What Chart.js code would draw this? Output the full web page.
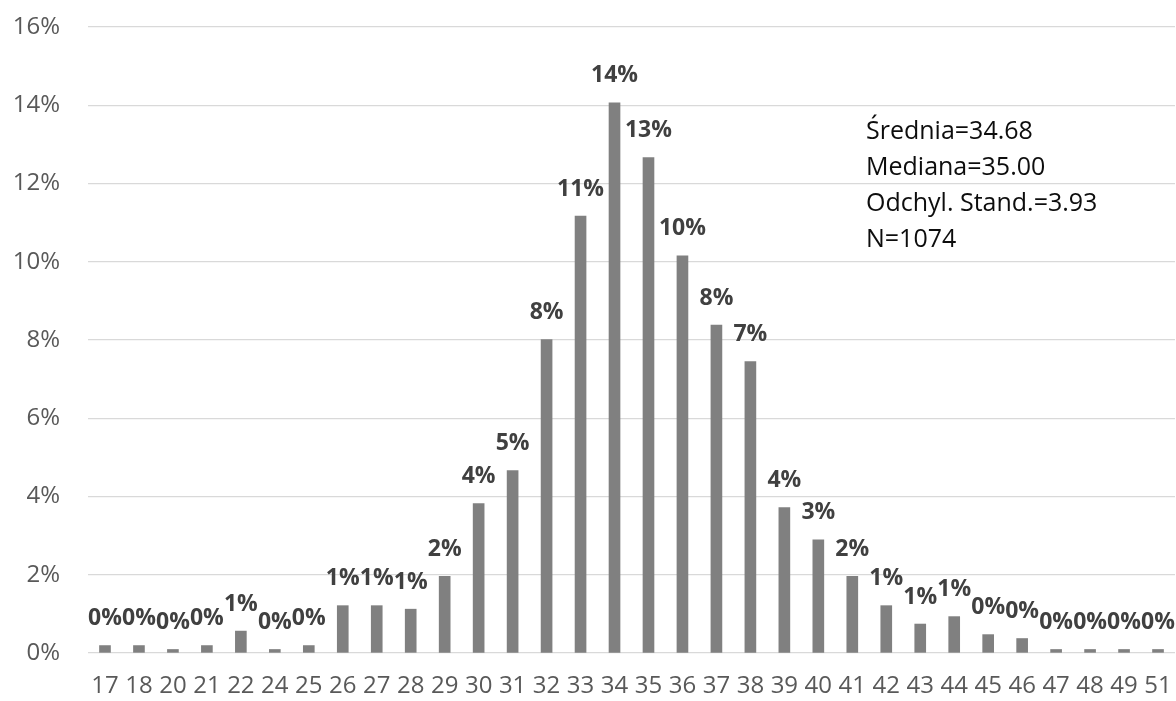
<!DOCTYPE html>
<html>
<head>
<meta charset="utf-8">
<script src="https://cdn.jsdelivr.net/npm/chart.js@4/dist/chart.umd.min.js"></script>
<style>
  html, body { margin: 0; padding: 0; background: #ffffff; }
  #wrap { width: 1176px; height: 701px; position: relative; }
</style>
</head>
<body>
<div id="wrap"><canvas id="chart-histogram"></canvas></div>
<script>
// values (percent of respondents)
const categories = ['17', '18', '20', '21', '22', '24', '25', '26', '27', '28', '29', '30', '31', '32', '33', '34',
  '35', '36', '37', '38', '39', '40', '41', '42', '43', '44', '45', '46', '47', '48', '49', '51'];
const shares = [0.19, 0.19, 0.09, 0.19, 0.56, 0.09, 0.19, 1.21, 1.21, 1.12, 1.96, 3.82, 4.66, 8.01, 11.17, 14.06,
  12.66, 10.15, 8.38, 7.45, 3.72, 2.89, 1.96, 1.21, 0.74, 0.93, 0.47, 0.37, 0.09, 0.09, 0.09, 0.09];
const yTicks = [0, 2, 4, 6, 8, 10, 12, 14, 16];
const statsLines = ['Średnia=34.68', 'Mediana=35.00', 'Odchyl. Stand.=3.93', 'N=1074'];

const FONT = '"Open Sans", "Liberation Sans", sans-serif';

function dropScalePadding(scale) {
  scale.paddingTop = 0;
  scale.paddingBottom = 0;
  scale.paddingLeft = 0;
  scale.paddingRight = 0;
}

const barLabels = {
  id: 'barLabels',
  afterDatasetsDraw(chart) {
    const { ctx } = chart;
    const meta = chart.getDatasetMeta(0);
    ctx.save();
    ctx.font = `bold 23px ${FONT}`;
    ctx.fillStyle = '#404040';
    ctx.textAlign = 'center';
    ctx.textBaseline = 'middle';
    meta.data.forEach((bar, i) => {
      ctx.fillText(`${Math.round(shares[i])}%`, bar.x, bar.y - 27);
    });
    ctx.restore();
  }
};

const statsBox = {
  id: 'statsBox',
  afterDraw(chart) {
    const { ctx } = chart;
    ctx.save();
    ctx.font = `25px ${FONT}`;
    ctx.fillStyle = '#0d0d0d';
    ctx.textAlign = 'left';
    ctx.textBaseline = 'alphabetic';
    statsLines.forEach((line, i) => {
      ctx.fillText(line, 866, 139 + i * 36);
    });
    ctx.restore();
  }
};

new Chart(document.getElementById('chart-histogram'), {
  type: 'bar',
  data: {
    labels: categories,
    datasets: [
      {
        data: shares,
        backgroundColor: '#808080',
        borderWidth: 0,
        barThickness: 11
      }
    ]
  },
  options: {
    responsive: true,
    maintainAspectRatio: false,
    animation: false,
    layout: { padding: { top: 27, right: 1, left: 0, bottom: 0 } },
    scales: {
      y: {
        min: 0,
        max: 16,
        afterFit: (scale) => {
          scale.width = 88;
          dropScalePadding(scale);
        },
        afterBuildTicks: (scale) => { scale.ticks = yTicks.map((v) => ({ value: v })); },
        border: { display: false },
        grid: { color: '#d9d9d9', lineWidth: 1.3, drawTicks: false },
        ticks: {
          padding: 28,
          color: '#595959',
          font: { family: FONT, size: 24 },
          callback: (v) => `${v}%`
        }
      },
      x: {
        afterFit: (scale) => {
          scale.height = 48;
          dropScalePadding(scale);
        },
        border: { display: false },
        grid: { display: false, drawTicks: false },
        ticks: {
          padding: 19,
          autoSkip: false,
          maxRotation: 0,
          color: '#595959',
          font: { family: FONT, size: 24 }
        }
      }
    },
    plugins: {
      legend: { display: false },
      tooltip: { enabled: false }
    }
  },
  plugins: [barLabels, statsBox]
});
</script>
</body>
</html>
